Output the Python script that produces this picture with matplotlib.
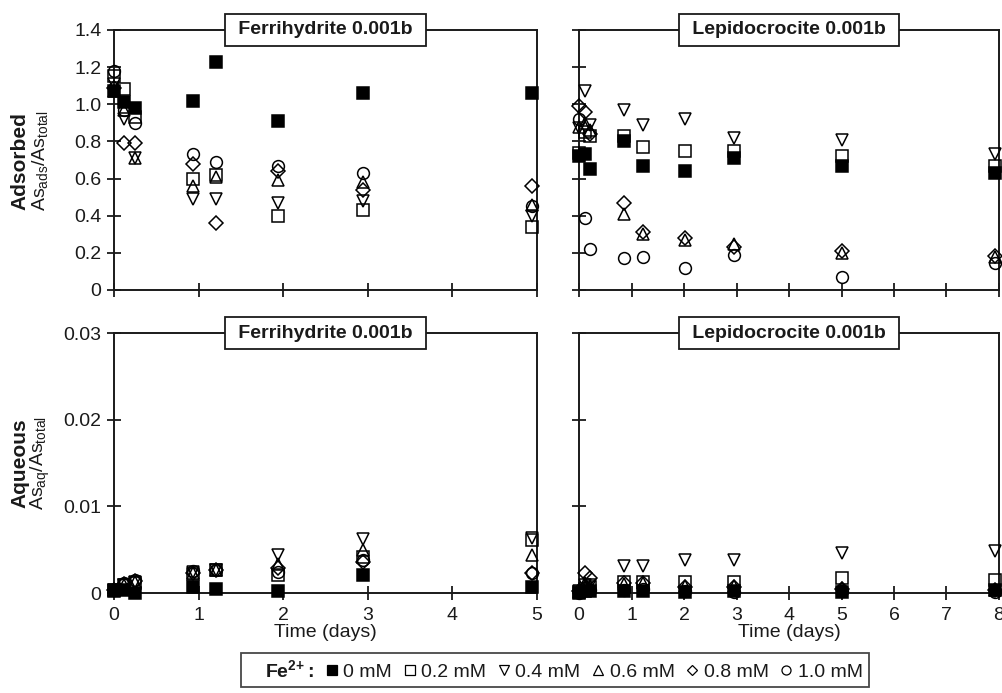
import matplotlib
matplotlib.use("Agg")
import matplotlib.pyplot as plt
from matplotlib.lines import Line2D

plt.rcParams["font.family"] = ["Liberation Sans", "DejaVu Sans"]
plt.rcParams["mathtext.default"] = "regular"

# Fe(II) concentrations and marker styles
fe_labels = ["0 mM", "0.2 mM", "0.4 mM", "0.6 mM", "0.8 mM", "1.0 mM"]
fe_markers = ["s", "s", "v", "^", "D", "o"]

# sampling times (days)
t_ferri = [0, 0.12, 0.25, 0.93, 1.2, 1.94, 2.94, 4.94]
t_lepi = [0, 0.11, 0.21, 0.86, 1.22, 2.01, 2.95, 5.01, 7.92]

# Adsorbed fraction, ferrihydrite
ads_ferri = [
    [1.07, 1.01, 0.98, 1.02, 1.23, 0.91, 1.06, 1.06],
    [1.15, 1.08, 0.93, 0.60, 0.62, 0.40, 0.43, 0.34],
    [1.11, 0.92, 0.71, 0.49, 0.49, 0.47, 0.48, 0.40],
    [1.07, 0.97, 0.71, 0.56, 0.61, 0.59, 0.58, 0.46],
    [1.09, 0.79, 0.79, 0.68, 0.36, 0.64, 0.54, 0.56],
    [1.18, 0.97, 0.90, 0.73, 0.69, 0.67, 0.63, 0.45],
]

# Adsorbed fraction, lepidocrocite
ads_lepi = [
    [0.72, 0.73, 0.65, 0.80, 0.67, 0.64, 0.71, 0.67, 0.63],
    [0.74, 0.85, 0.83, 0.83, 0.77, 0.75, 0.75, 0.72, 0.67],
    [0.87, 1.07, 0.89, 0.97, 0.89, 0.92, 0.82, 0.81, 0.73],
    [0.88, 0.90, 0.86, 0.41, 0.30, 0.27, 0.25, 0.20, 0.18],
    [0.99, 0.96, 0.84, 0.47, 0.31, 0.28, 0.23, 0.21, 0.185],
    [0.92, 0.39, 0.22, 0.17, 0.18, 0.12, 0.19, 0.07, 0.145],
]

# Aqueous fraction, ferrihydrite
aq_ferri = [
    [0.0002, 0.0003, 0.0000, 0.0007, 0.0005, 0.0002, 0.0021, 0.0007],
    [0.0003, 0.0009, 0.0012, 0.0022, 0.0026, 0.0021, 0.0042, 0.0061],
    [0.0003, 0.0009, 0.0013, 0.0024, 0.0027, 0.0044, 0.0062, 0.0064],
    [0.0003, 0.0009, 0.0013, 0.0023, 0.0026, 0.0033, 0.0050, 0.0044],
    [0.0003, 0.0010, 0.0014, 0.0023, 0.0026, 0.0029, 0.0036, 0.0023],
    [0.0003, 0.0011, 0.0015, 0.0025, 0.0027, 0.0024, 0.0038, 0.0023],
]

# Aqueous fraction, lepidocrocite
aq_lepi = [
    [0.0000, 0.0002, 0.0002, 0.0002, 0.0002, 0.0001, 0.0002, 0.0001, 0.0003],
    [0.0001, 0.0005, 0.0007, 0.0013, 0.0013, 0.0013, 0.0013, 0.0017, 0.0015],
    [0.0002, 0.0009, 0.0009, 0.0031, 0.0031, 0.0038, 0.0038, 0.0046, 0.0049],
    [0.0001, 0.0012, 0.0008, 0.0010, 0.0011, 0.0008, 0.0008, 0.0006, 0.0003],
    [0.0002, 0.0023, 0.0017, 0.0011, 0.0011, 0.0007, 0.0007, 0.0005, 0.0004],
    [0.0000, 0.0006, 0.0004, 0.0003, 0.0005, 0.0002, 0.0001, 0.0002, 0.0001],
]

ads_ticks = [0, 0.2, 0.4, 0.6, 0.8, 1.0, 1.2, 1.4]
ads_ticklabels = ["0", "0.2", "0.4", "0.6", "0.8", "1.0", "1.2", "1.4"]
aq_ticks = [0, 0.01, 0.02, 0.03]
aq_ticklabels = ["0", "0.01", "0.02", "0.03"]

W, H = 1003, 693
fig = plt.figure(figsize=(W / 100, H / 100), dpi=100)


def add_ax(x0, y0, x1, y1):
    return fig.add_axes([x0 / W, 1 - y1 / H, (x1 - x0) / W, (y1 - y0) / H])


ax_tl = add_ax(114, 30, 537, 290)
ax_tr = add_ax(579, 30, 999, 290)
ax_bl = add_ax(114, 333, 537, 593)
ax_br = add_ax(579, 333, 999, 593)

fs = 14
ink = "#1a1a1a"


def draw(ax, t, series, title, xmax, yticks, ylabels, show_x, show_y):
    # open symbols first, filled square on top
    order = [5, 4, 3, 2, 1, 0]
    for i in order:
        filled = i == 0
        ax.plot(t, series[i], linestyle="none", marker=fe_markers[i],
                markersize=8.5 if fe_markers[i] != "D" else 7,
                markerfacecolor="black" if filled else "none",
                markeredgecolor="black", markeredgewidth=1.1, clip_on=False,
                zorder=3)
    ax.set_xlim(0, xmax)
    ax.set_ylim(yticks[0], yticks[-1])
    ax.set_xticks(range(0, xmax + 1))
    ax.set_yticks(yticks)
    if show_y:
        ax.set_yticklabels(ylabels)
    else:
        ax.set_yticklabels([])
    if not show_x:
        ax.set_xticklabels([])
    ax.tick_params(direction="inout", length=10, width=1.3, colors=ink,
                   labelsize=fs)
    ax.tick_params(axis="x", pad=5)
    ax.tick_params(axis="y", pad=4)
    for s in ax.spines.values():
        s.set_linewidth(1.4)
        s.set_color(ink)
    ax.text(0.5, 1.0, " " + title + " ", transform=ax.transAxes, ha="center",
            va="center", fontsize=fs, fontweight="bold", color=ink, zorder=5,
            bbox=dict(boxstyle="square,pad=0.4", fc="white", ec=ink, lw=1.3))
    if show_x:
        ax.set_xlabel("Time (days)", fontsize=fs, color=ink, labelpad=0)


draw(ax_tl, t_ferri, ads_ferri, "Ferrihydrite 0.001b", 5, ads_ticks, ads_ticklabels, False, True)
draw(ax_tr, t_lepi, ads_lepi, "Lepidocrocite 0.001b", 8, ads_ticks, ads_ticklabels, False, False)
draw(ax_bl, t_ferri, aq_ferri, "Ferrihydrite 0.001b", 5, aq_ticks, aq_ticklabels, True, True)
draw(ax_br, t_lepi, aq_lepi, "Lepidocrocite 0.001b", 8, aq_ticks, aq_ticklabels, True, False)

# row labels
fig.text(20 / W, 1 - 161 / H, "Adsorbed", rotation=90, ha="center", va="center",
         fontsize=fs + 1, fontweight="bold", color=ink)
fig.text(40 / W, 1 - 161 / H, "As$_{ads}$/As$_{total}$", rotation=90, ha="center",
         va="center", fontsize=fs, color=ink)
fig.text(20 / W, 1 - 463 / H, "Aqueous", rotation=90, ha="center", va="center",
         fontsize=fs + 1, fontweight="bold", color=ink)
fig.text(40 / W, 1 - 463 / H, "As$_{aq}$/As$_{total}$", rotation=90, ha="center",
         va="center", fontsize=fs, color=ink)

# legend
handles = [Line2D([], [], linestyle="none", marker="none")]
labels = [r"Fe$^{2\!+}$:"]
for i, lab in enumerate(fe_labels):
    handles.append(Line2D([], [], linestyle="none", marker=fe_markers[i],
                          markersize=6.5 if fe_markers[i] != "D" else 5.5,
                          markerfacecolor="black" if i == 0 else "none",
                          markeredgecolor="black", markeredgewidth=0.9))
    labels.append(lab)
leg = fig.legend(handles, labels, loc="center", bbox_to_anchor=(555 / W, 1 - 670 / H),
                 ncol=7, frameon=True, fontsize=fs, handlelength=0.7,
                 handletextpad=0.25, columnspacing=0.55, borderpad=0.3,
                 fancybox=False, edgecolor=ink)
leg.get_frame().set_linewidth(1.3)
leg.get_texts()[0].set_fontweight("bold")
for tx in leg.get_texts():
    tx.set_color(ink)

fig.savefig("out.png", dpi=100)
